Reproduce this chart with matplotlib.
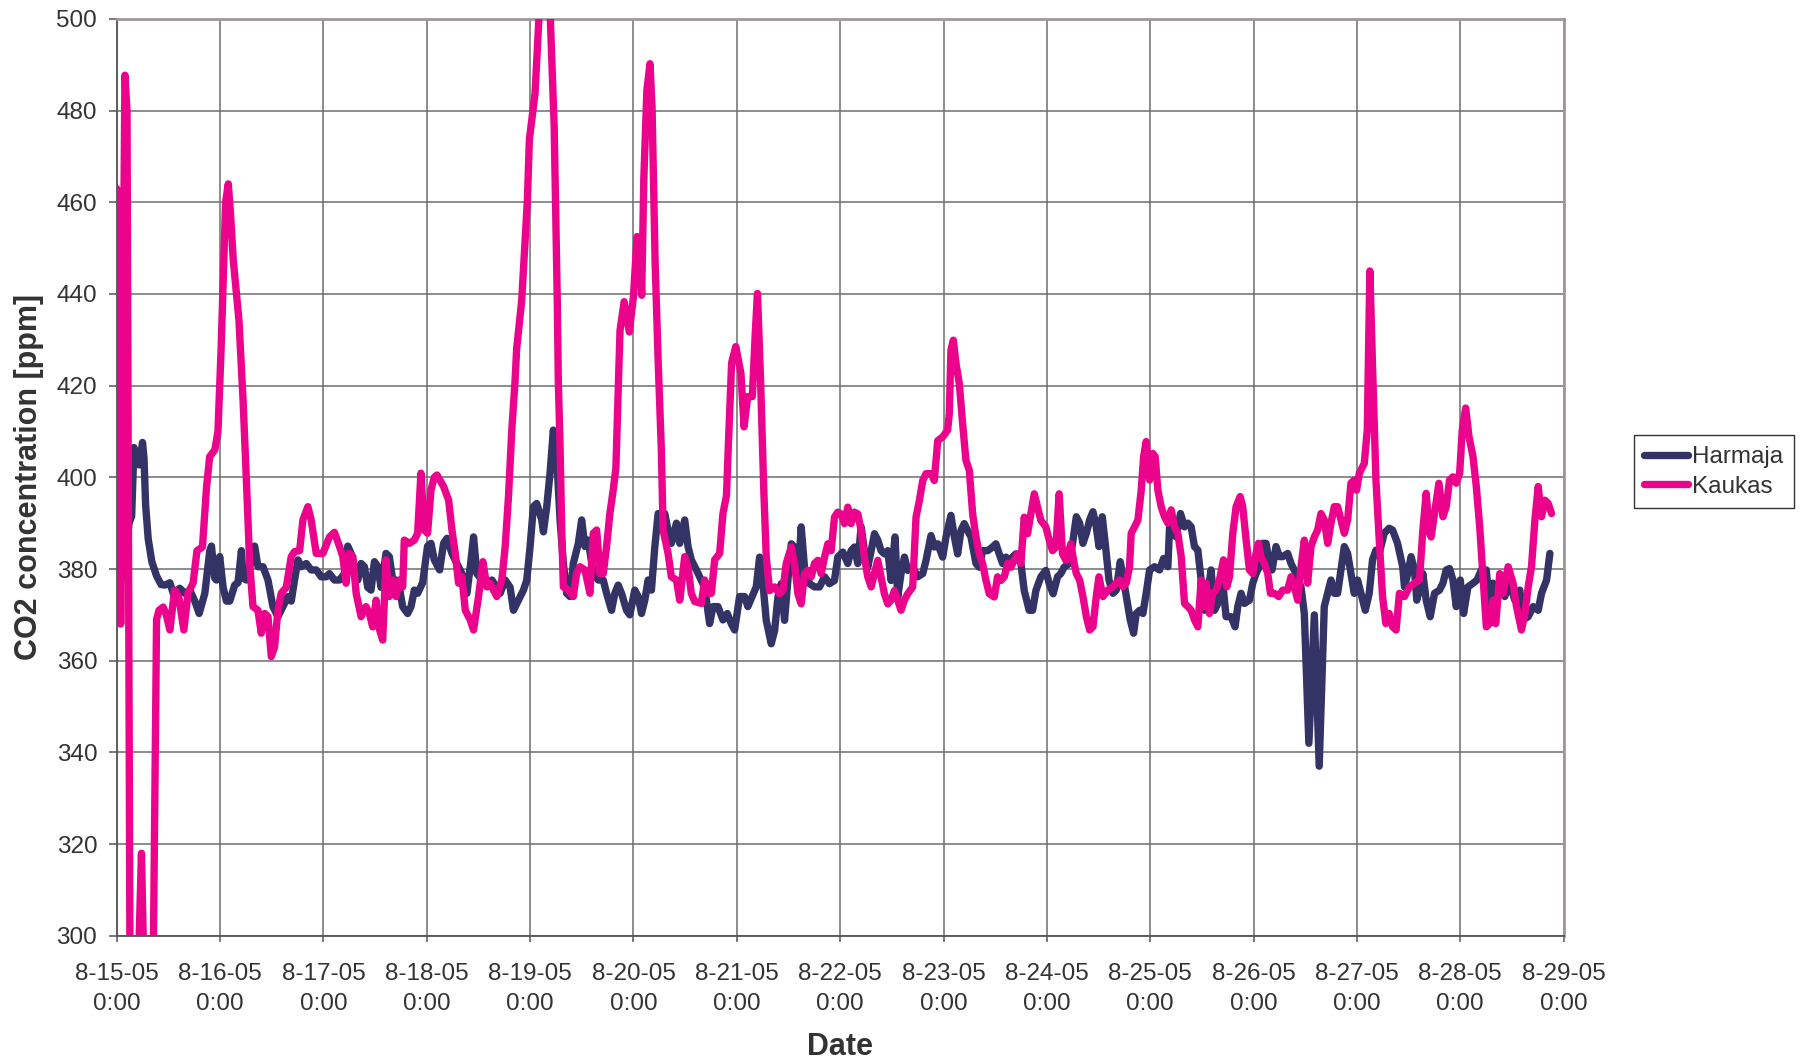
import numpy as np
import matplotlib
matplotlib.use("Agg")
import matplotlib.pyplot as plt
import matplotlib.dates as mdates
import datetime as dt

# ---- data (time in days since 2005-08-15 0:00, CO2 in ppm) ----
harmaja_days = [
    0.00, 0.02, 0.08, 0.12, 0.145, 0.167, 0.19, 0.22, 0.25, 0.265, 0.28, 0.305, 0.34, 0.386, 0.43, 0.467, 0.515,
    0.547, 0.611, 0.660, 0.708, 0.756, 0.798, 0.853, 0.901, 0.917, 0.949, 0.965, 0.997, 1.030, 1.062, 1.094,
    1.142, 1.174, 1.207, 1.223, 1.255, 1.303, 1.335, 1.367, 1.416, 1.464, 1.512, 1.560, 1.609, 1.657, 1.689,
    1.721, 1.754, 1.786, 1.834, 1.882, 1.931, 1.979, 2.027, 2.059, 2.107, 2.156, 2.204, 2.236, 2.268, 2.301,
    2.333, 2.365, 2.397, 2.429, 2.461, 2.494, 2.526, 2.558, 2.606, 2.638, 2.671, 2.703, 2.735, 2.767, 2.815,
    2.848, 2.880, 2.912, 2.960, 3.008, 3.041, 3.073, 3.125, 3.163, 3.196, 3.244, 3.292, 3.340, 3.389, 3.421,
    3.453, 3.485, 3.533, 3.582, 3.630, 3.678, 3.710, 3.759, 3.807, 3.839, 3.887, 3.936, 3.968, 4.000, 4.032,
    4.064, 4.113, 4.129, 4.161, 4.193, 4.225, 4.257, 4.290, 4.322, 4.354, 4.386, 4.418, 4.467, 4.499, 4.531,
    4.563, 4.611, 4.660, 4.708, 4.740, 4.788, 4.820, 4.852, 4.885, 4.933, 4.965, 5.013, 5.046, 5.078, 5.110,
    5.142, 5.174, 5.207, 5.239, 5.271, 5.303, 5.335, 5.367, 5.416, 5.448, 5.496, 5.528, 5.560, 5.609, 5.641,
    5.689, 5.737, 5.770, 5.818, 5.866, 5.908, 5.946, 5.979, 6.027, 6.075, 6.107, 6.188, 6.221, 6.253, 6.285,
    6.333, 6.366, 6.398, 6.430, 6.462, 6.494, 6.527, 6.559, 6.591, 6.623, 6.655, 6.704, 6.752, 6.800, 6.849,
    6.897, 6.945, 6.977, 7.026, 7.074, 7.106, 7.138, 7.171, 7.203, 7.235, 7.267, 7.300, 7.332, 7.364, 7.396,
    7.428, 7.461, 7.493, 7.531, 7.557, 7.589, 7.622, 7.654, 7.702, 7.750, 7.799, 7.831, 7.879, 7.911, 7.944,
    7.992, 8.024, 8.072, 8.105, 8.137, 8.169, 8.201, 8.233, 8.266, 8.314, 8.346, 8.378, 8.427, 8.475, 8.507,
    8.539, 8.572, 8.604, 8.636, 8.668, 8.700, 8.749, 8.781, 8.829, 8.862, 8.894, 8.942, 8.990, 9.023, 9.061,
    9.103, 9.135, 9.167, 9.216, 9.248, 9.285, 9.317, 9.349, 9.382, 9.414, 9.446, 9.478, 9.504, 9.536, 9.568,
    9.601, 9.639, 9.671, 9.710, 9.742, 9.775, 9.807, 9.839, 9.865, 9.897, 9.929, 9.961, 9.994, 10.042, 10.090,
    10.129, 10.171, 10.187, 10.219, 10.251, 10.293, 10.332, 10.364, 10.396, 10.428, 10.461, 10.493, 10.525,
    10.557, 10.589, 10.622, 10.670, 10.702, 10.734, 10.783, 10.821, 10.847, 10.879, 10.911, 10.960, 10.992,
    11.024, 11.056, 11.089, 11.121, 11.147, 11.179, 11.217, 11.250, 11.282, 11.330, 11.362, 11.411, 11.459,
    11.491, 11.535, 11.588, 11.635, 11.684, 11.717, 11.749, 11.781, 11.813, 11.845, 11.878, 11.910, 11.942,
    11.974, 12.006, 12.039, 12.081, 12.119, 12.151, 12.184, 12.216, 12.264, 12.312, 12.345, 12.393, 12.443,
    12.460, 12.492, 12.524, 12.557, 12.579, 12.605, 12.638, 12.670, 12.709, 12.751, 12.799, 12.832, 12.864,
    12.896, 12.929, 12.961, 13.000, 13.032, 13.074, 13.123, 13.162, 13.204, 13.252, 13.285, 13.317, 13.350,
    13.398, 13.430, 13.479, 13.528, 13.576, 13.608, 13.657, 13.706, 13.754, 13.786, 13.835, 13.867,
]
harmaja_ppm = [
    371.7, 375.0, 382.0, 390.0, 391.5, 406.5, 403.0, 402.7, 407.6, 404.0, 394.0, 386.6, 381.6, 378.5, 376.6, 376.5, 377.0,
    374.7, 375.8, 374.7, 375.4, 373.0, 370.3, 374.7, 384.0, 385.0, 378.0, 377.6, 382.7, 376.0, 373.0, 373.0,
    376.5, 377.0, 384.0, 378.0, 377.6, 382.0, 385.0, 380.5, 380.5, 377.6, 371.8, 369.6, 371.8, 374.0, 373.0,
    377.6, 382.0, 380.5, 381.2, 379.8, 379.8, 378.3, 378.3, 379.0, 377.6, 377.6, 379.0, 385.0, 383.4, 380.5,
    377.6, 381.2, 380.5, 376.0, 375.4, 381.6, 380.5, 376.0, 383.4, 382.7, 377.6, 377.6, 376.0, 371.8, 370.3,
    371.8, 375.4, 374.7, 377.0, 385.0, 385.6, 382.0, 379.8, 385.6, 386.7, 383.4, 381.2, 379.0, 374.7, 380.5,
    387.0, 379.0, 377.6, 376.9, 377.6, 376.0, 374.7, 377.6, 376.0, 371.0, 373.2, 375.4, 377.6, 384.9, 393.6,
    394.3, 390.7, 388.1, 393.6, 400.9, 410.3, 404.5, 390.7, 381.2, 374.7, 374.0, 381.2, 385.6, 390.7, 384.9,
    386.3, 379.0, 377.6, 377.6, 374.7, 371.0, 374.7, 376.5, 374.7, 371.0, 370.0, 375.4, 374.0, 370.3, 373.2,
    377.6, 375.4, 384.9, 392.1, 390.7, 392.1, 388.5, 385.6, 390.0, 385.6, 390.7, 384.9, 382.0, 379.8, 378.3,
    376.0, 368.1, 371.8, 371.8, 368.9, 370.3, 368.1, 366.7, 374.0, 374.0, 371.8, 376.1, 382.6, 376.8, 368.8,
    363.7, 366.6, 373.9, 376.8, 368.8, 377.5, 385.5, 384.8, 376.8, 389.2, 380.4, 376.8, 376.1, 376.1, 378.3,
    376.8, 377.5, 382.6, 383.7, 381.2, 384.0, 384.8, 381.2, 389.2, 384.0, 380.4, 384.0, 387.7, 386.3, 384.0,
    383.3, 384.0, 377.5, 387.0, 373.9, 379.0, 382.6, 379.7, 380.4, 378.3, 379.0, 381.9, 387.3, 384.8, 385.5,
    382.6, 387.0, 391.7, 387.0, 383.3, 388.4, 389.9, 388.4, 387.0, 381.2, 380.4, 384.0, 384.0, 384.8, 385.5,
    383.3, 381.2, 382.6, 381.2, 382.6, 383.3, 381.2, 375.3, 371.0, 371.0, 375.3, 378.3, 379.7, 376.8, 374.6,
    378.3, 379.0, 380.4, 381.2, 385.5, 391.4, 390.0, 385.6, 387.8, 390.7, 392.5, 389.2, 384.9, 391.4, 384.9,
    377.6, 374.7, 375.4, 381.6, 377.6, 373.2, 368.9, 366.0, 370.3, 371.0, 370.3, 374.7, 379.8, 380.5, 379.8,
    382.3, 380.5, 389.2, 387.8, 387.0, 392.1, 389.2, 390.0, 389.2, 384.9, 384.1, 377.6, 371.0,
    374.7, 379.8, 371.0, 373.2, 376.9, 369.6, 369.6, 367.4, 371.8, 374.7, 372.5, 373.2, 376.9,
    379.0, 380.5, 385.6, 385.6, 382.0, 379.8, 384.9, 382.7, 382.7, 383.4, 381.2, 379.0, 376.1,
    370.3, 342.0, 370.0, 337.0, 371.8, 374.7, 377.6, 374.7, 374.7, 379.8, 384.9, 383.4, 379.0,
    374.7, 377.6, 374.7, 371.0, 374.7, 382.0, 384.1, 383.4, 387.8, 388.9, 388.5, 385.6, 380.5,
    376.1, 379.0, 382.7, 379.8, 373.2, 375.4, 379.0, 373.2, 369.6, 374.7, 375.4, 376.9, 379.8,
    380.1, 377.6, 371.8, 377.6, 370.3, 376.1, 376.9, 377.6, 379.8, 379.8, 371.0, 376.9, 376.1,
    377.6, 374.0, 376.9, 373.2, 375.4, 368.9, 369.6, 371.8, 371.0, 374.7, 377.6, 383.4,
]

kaukas_days = [
    0.00, 0.016, 0.039, 0.08, 0.10, 0.13, 0.20, 0.24, 0.27, 0.35, 0.386, 0.41, 0.45, 0.48, 0.515, 0.56, 0.60,
    0.65, 0.69, 0.74, 0.777, 0.83, 0.87, 0.90, 0.95, 0.98, 1.01, 1.035, 1.054, 1.08, 1.10, 1.128, 1.183, 1.223,
    1.255, 1.287, 1.319, 1.367, 1.399, 1.432, 1.464, 1.496, 1.528, 1.560, 1.592, 1.641, 1.689, 1.721, 1.770,
    1.802, 1.850, 1.882, 1.931, 1.995, 2.059, 2.107, 2.156, 2.188, 2.220, 2.252, 2.285, 2.317, 2.365, 2.413,
    2.445, 2.477, 2.510, 2.535, 2.574, 2.606, 2.638, 2.671, 2.703, 2.735, 2.767, 2.783, 2.831, 2.880, 2.912,
    2.944, 2.976, 3.008, 3.041, 3.073, 3.099, 3.163, 3.212, 3.244, 3.276, 3.308, 3.340, 3.373, 3.421, 3.453,
    3.501, 3.543, 3.582, 3.614, 3.646, 3.678, 3.727, 3.759, 3.791, 3.823, 3.855, 3.87, 3.919, 3.974, 3.993,
    4.048, 4.085, 4.12, 4.16, 4.196, 4.233, 4.263, 4.273, 4.290, 4.306, 4.322, 4.370, 4.418, 4.450, 4.483,
    4.531, 4.579, 4.611, 4.644, 4.676, 4.708, 4.740, 4.772, 4.804, 4.83, 4.87, 4.91, 4.96, 5.00, 5.035, 5.055,
    5.08, 5.10, 5.13, 5.16, 5.18, 5.21, 5.24, 5.27, 5.287, 5.335, 5.367, 5.416, 5.448, 5.496, 5.528, 5.560,
    5.593, 5.657, 5.689, 5.721, 5.754, 5.786, 5.834, 5.866, 5.90, 5.92, 5.95, 5.99, 6.04, 6.07, 6.105, 6.15,
    6.18, 6.20, 6.23, 6.26, 6.285, 6.317, 6.366, 6.414, 6.446, 6.478, 6.527, 6.559, 6.591, 6.623, 6.655,
    6.688, 6.720, 6.752, 6.784, 6.816, 6.849, 6.881, 6.913, 6.945, 6.977, 7.010, 7.042, 7.074, 7.106, 7.138,
    7.171, 7.203, 7.235, 7.267, 7.300, 7.332, 7.364, 7.396, 7.428, 7.461, 7.493, 7.525, 7.557, 7.589, 7.622,
    7.654, 7.702, 7.734, 7.767, 7.799, 7.831, 7.879, 7.911, 7.944, 7.992, 8.040, 8.056, 8.072, 8.095, 8.121,
    8.153, 8.185, 8.217, 8.250, 8.282, 8.314, 8.346, 8.378, 8.411, 8.443, 8.491, 8.523, 8.556, 8.588, 8.620,
    8.652, 8.684, 8.717, 8.749, 8.781, 8.813, 8.845, 8.878, 8.910, 8.942, 8.990, 9.023, 9.055, 9.087, 9.119,
    9.151, 9.184, 9.232, 9.264, 9.285, 9.317, 9.349, 9.382, 9.414, 9.446, 9.478, 9.504, 9.543, 9.591, 9.639,
    9.671, 9.704, 9.736, 9.768, 9.800, 9.816, 9.849, 9.881, 9.913, 9.936, 9.961, 9.994, 10.026, 10.048,
    10.074, 10.106, 10.138, 10.171, 10.203, 10.235, 10.267, 10.300, 10.332, 10.364, 10.396, 10.428, 10.461,
    10.493, 10.515, 10.541, 10.573, 10.605, 10.638, 10.670, 10.709, 10.741, 10.767, 10.799, 10.831, 10.870,
    10.895, 10.928, 10.960, 10.992, 11.024, 11.047, 11.072, 11.105, 11.137, 11.163, 11.201, 11.243, 11.282,
    11.330, 11.362, 11.395, 11.427, 11.459, 11.491, 11.523, 11.556, 11.588, 11.620, 11.652, 11.684, 11.717,
    11.749, 11.781, 11.813, 11.845, 11.878, 11.910, 11.942, 11.974, 11.997, 12.023, 12.071, 12.10, 12.125,
    12.15, 12.184, 12.216, 12.248, 12.280, 12.312, 12.345, 12.379, 12.411, 12.460, 12.508, 12.557, 12.605,
    12.638, 12.670, 12.702, 12.718, 12.751, 12.793, 12.832, 12.864, 12.896, 12.929, 12.961, 12.994, 13.019,
    13.052, 13.084, 13.123, 13.155, 13.188, 13.220, 13.252, 13.285, 13.317, 13.343, 13.382, 13.414, 13.463,
    13.511, 13.544, 13.592, 13.625, 13.657, 13.689, 13.722, 13.754, 13.786, 13.819, 13.851, 13.883,
]
kaukas_ppm = [
    463.0, 462.0, 368.0, 487.7, 480.0, 285.0, 285.0, 318.0, 285.0, 285.0, 369.0, 371.0, 371.7, 370.0, 366.7, 375.4, 374.0,
    366.7, 374.7, 377.0, 384.0, 384.8, 398.0, 404.5, 406.0, 410.0, 427.7, 446.0, 460.0, 464.0, 458.0, 447.4, 434.3, 416.8,
    399.4, 381.2, 371.8, 371.0, 366.0, 370.3, 369.6, 360.9, 363.0, 371.0, 374.7, 376.0, 382.7, 383.8, 384.0,
    390.7, 393.6, 390.7, 383.4, 383.4, 387.0, 388.0, 384.9, 382.7, 376.9, 383.4, 382.7, 374.7, 369.6, 371.8,
    370.3, 367.4, 373.2, 367.4, 364.5, 382.0, 374.0, 377.6, 374.0, 377.6, 376.1, 386.3, 385.6, 386.3, 387.8,
    400.9, 388.5, 387.8, 397.2, 400.0, 400.5, 398.0, 395.0, 388.5, 383.4, 376.9, 378.3, 371.0, 368.9, 366.7,
    374.0, 381.6, 376.1, 376.9, 375.4, 374.0, 377.6, 384.9, 395.8, 410.3, 421.2, 428.0, 438.6, 460.5, 473.6,
    483.8, 500.0, 515.0, 515.0, 500.0, 476.5, 438.6, 421.0, 406.7, 388.5, 376.1, 375.4, 374.0, 379.0, 380.5,
    379.8, 374.7, 387.8, 388.5, 379.0, 379.0, 384.9, 392.1, 397.2, 402.0, 432.0, 438.3, 431.7, 439.4, 452.5, 451.0,
    439.7, 464.8, 484.4, 490.2, 480.8, 446.6, 424.8, 406.0, 388.5, 383.4, 378.3, 377.6, 373.2, 382.7, 380.5, 374.7,
    372.9, 372.5, 377.6, 374.7, 374.7, 382.0, 383.4, 392.1, 396.0, 408.0, 425.0, 428.5, 422.7, 411.0, 417.6, 417.6,
    432.0, 440.1, 421.2, 398.0, 382.6, 375.3, 376.1, 374.6, 375.3, 381.2, 384.8, 381.2, 374.6, 372.4, 379.0,
    379.7, 378.3, 381.2, 381.9, 379.0, 382.6, 385.5, 384.0, 391.3, 392.4, 392.0, 389.9, 393.5, 389.9, 392.4,
    392.0, 388.4, 382.6, 378.3, 376.1, 379.0, 381.9, 378.3, 374.6, 372.4, 373.2, 375.3, 373.2, 371.0, 373.2,
    374.6, 376.1, 391.3, 395.0, 399.3, 400.8, 400.8, 399.3, 408.0, 408.8, 410.3, 413.9, 427.7, 429.9, 424.8,
    420.4, 411.7, 403.7, 401.5, 392.0, 387.0, 383.3, 381.2, 377.5, 374.6, 373.9, 378.3, 377.5, 378.3, 381.2,
    380.4, 381.9, 383.3, 381.2, 391.3, 387.7, 392.0, 396.4, 393.5, 390.6, 389.2, 386.3, 384.0, 384.8, 396.4,
    383.3, 381.9, 385.5, 381.2, 379.0, 377.6, 374.0, 369.6, 366.7, 367.4, 374.0, 378.3, 374.0, 375.4, 376.1,
    376.9, 377.6, 376.1, 376.9, 380.5, 387.8, 389.2, 390.7, 397.2, 404.5, 407.8, 399.4, 405.2, 404.5,
    397.2, 393.6, 391.4, 390.0, 392.9, 389.2, 387.8, 382.7, 372.5, 371.8, 371.0, 368.9, 367.4,
    377.6, 371.8, 376.9, 370.3, 374.7, 375.4, 377.6, 382.0, 376.1, 378.3, 387.8, 393.6, 395.8,
    393.6, 386.3, 379.8, 379.0, 383.4, 385.6, 382.7, 381.2, 379.0, 374.7, 374.7, 374.0, 375.4,
    375.4, 378.3, 376.1, 373.2, 380.5, 386.3, 376.9, 384.9, 387.0, 388.5, 392.1, 390.7, 385.6,
    390.0, 393.6, 393.6, 390.7, 387.8, 390.7, 398.7, 399.4, 397.2, 400.9, 403.0, 410.3, 445.0,
    425.0, 399.4, 386.3, 374.0, 368.1, 370.3, 367.4, 366.7, 374.7, 374.0, 376.1, 376.9, 377.6,
    388.5, 396.5, 387.8, 387.0, 392.1, 398.7, 391.4, 393.6, 399.4, 400.1, 398.7, 400.9, 410.3,
    415.1, 408.9, 404.5, 398.0, 389.2, 378.3, 367.4, 368.1, 373.2, 368.1, 379.0, 374.7, 380.5,
    376.9, 371.8, 366.7, 370.3, 376.1, 380.5, 390.7, 398.0, 391.4, 395.0, 394.3, 392.1,
]

series_names = ["Harmaja", "Kaukas"]
start_date = dt.datetime(2005, 8, 15)
n_days = 14
y_ticks = [300, 320, 340, 360, 380, 400, 420, 440, 460, 480, 500]

# ---- plotting ----
plt.rcParams['font.family'] = ['Liberation Sans', 'DejaVu Sans']

fig = plt.figure(figsize=(18.06, 10.62), dpi=100)
ax = fig.add_axes([0.0646, 0.1188, 0.8012, 0.8635])

t0 = mdates.date2num(start_date)
h_x = t0 + np.asarray(harmaja_days)
k_x = t0 + np.asarray(kaukas_days)

ax.plot(h_x, harmaja_ppm, color="#333366", lw=5.3, solid_joinstyle="round",
        solid_capstyle="round", label=series_names[0], zorder=3)
ax.plot(k_x, kaukas_ppm, color="#EC038C", lw=5.3, solid_joinstyle="round",
        solid_capstyle="round", label=series_names[1], zorder=4)

ax.set_xlim(t0, t0 + n_days)
ax.set_ylim(300, 500)
ax.set_yticks(y_ticks)
ax.xaxis.set_major_locator(mdates.DayLocator())
ax.xaxis.set_major_formatter(mdates.DateFormatter('%-m-%d-%y\n%-H:%M'))

ax.grid(True, which="major", color="#6e6e6e", lw=1.1)
ax.set_axisbelow(True)

for side in ["left", "bottom"]:
    ax.spines[side].set_color("#555555")
    ax.spines[side].set_linewidth(1.3)
for side in ["top", "right"]:
    ax.spines[side].set_color("#a09898")
    ax.spines[side].set_linewidth(2.0)

ax.tick_params(axis="both", direction="out", width=1.1, color="#555555",
               labelsize=17.5, labelcolor="#333333")
ax.tick_params(axis="y", length=6, pad=8)
ax.tick_params(axis="x", length=4, pad=15.5)
for lab in ax.get_xticklabels():
    lab.set_linespacing(1.5)

ax.set_xlabel("Date", fontsize=22, fontweight="bold", color="#333333", labelpad=12)
ax.set_ylabel("CO2 concentration [ppm]", fontsize=22, fontweight="bold", color="#333333", labelpad=9)

leg = fig.legend(loc="center left", bbox_to_anchor=(0.9045, 0.5557), fontsize=17.5,
                 frameon=True, fancybox=False, edgecolor="#000000", handlelength=1.8,
                 handletextpad=0.15, borderpad=0.45, labelspacing=0.3, borderaxespad=0)
leg.get_frame().set_linewidth(1.0)
for t in leg.get_texts():
    t.set_color("#333333")

fig.savefig("out.png", dpi=100, facecolor="white")
